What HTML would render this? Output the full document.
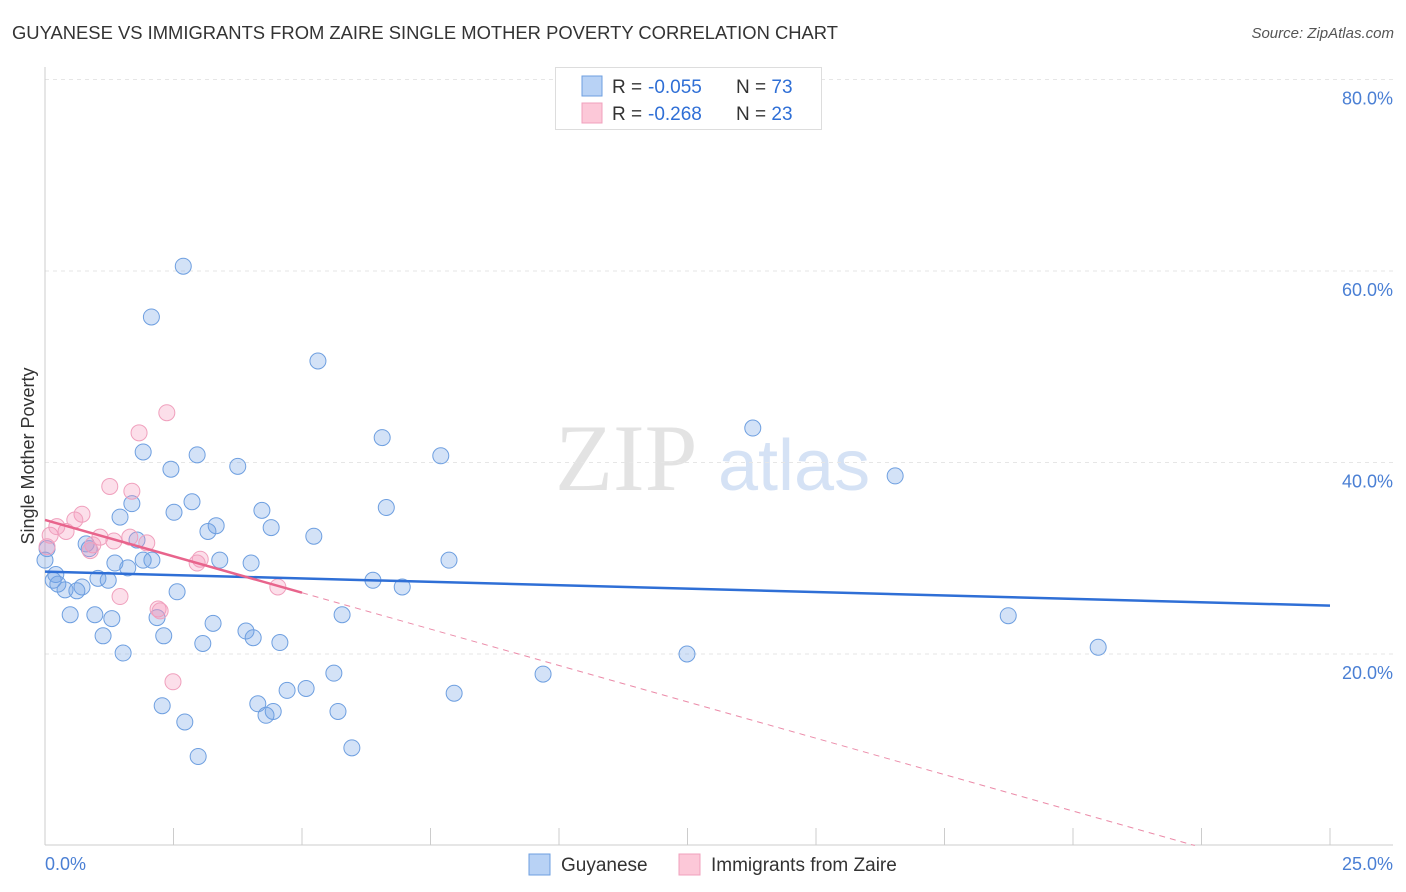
<!DOCTYPE html>
<html><head><meta charset="utf-8">
<style>
body{margin:0;background:#fff;font-family:"Liberation Sans",sans-serif;}
#wrap{position:relative;width:1406px;height:892px;overflow:hidden;}
.t{position:absolute;white-space:nowrap;}
</style></head>
<body>
<div id="wrap">
<div class="t" style="left:12px;top:22px;font-size:18.4px;color:#333;">GUYANESE VS IMMIGRANTS FROM ZAIRE SINGLE MOTHER POVERTY CORRELATION CHART</div>
<div class="t" style="right:12px;top:25px;font-size:15px;color:#555;font-style:italic;">Source: ZipAtlas.com</div>
<svg id="svg" width="1406" height="892" style="position:absolute;left:0;top:0"></svg>
</div>
<script>
const yTicks=[20,40,60,80];
const xTickVals=[0,2.5,5,7.5,10,12.5,15,17.5,20,22.5,25];
const blueX=[2.69,2.07,5.31,6.56,13.77,7.70,1.91,2.96,2.45,3.75,16.54,1.69,2.86,6.64,1.46,2.51,4.22,3.33,4.40,3.17,5.23,0.80,1.79,3.40,0.86,2.08,7.86,4.01,1.36,1.91,1.61,0.21,0.16,1.23,1.03,0.72,6.38,6.95,2.57,0.25,0.39,0.62,0.49,0.97,1.30,2.18,3.27,5.78,18.74,3.91,1.13,2.31,4.05,4.57,3.07,1.52,12.49,20.49,5.62,9.69,4.71,5.08,2.28,4.14,4.44,4.30,7.96,5.70,2.72,5.97,2.98,0.04,0.0];
const blueY=[60.5,55.2,50.6,42.6,43.6,40.7,41.1,40.8,39.3,39.6,38.6,35.7,35.9,35.3,34.3,34.8,35.0,33.4,33.2,32.8,32.3,31.5,31.9,29.8,31.0,29.8,29.8,29.5,29.5,29.8,29.0,28.3,27.7,27.7,27.9,27.0,27.7,27.0,26.5,27.3,26.7,26.6,24.1,24.1,23.7,23.8,23.2,24.1,24.0,22.4,21.9,21.9,21.7,21.2,21.1,20.1,20.0,20.7,18.0,17.9,16.2,16.4,14.6,14.8,14.0,13.6,15.9,14.0,12.9,10.2,9.3,31.0,29.8];
const pinkX=[2.37,1.83,1.26,1.69,0.72,0.58,0.41,0.10,0.23,1.07,0.93,1.34,1.65,1.98,0.88,3.02,2.96,1.46,2.20,2.24,4.53,2.49,0.04];
const pinkY=[45.2,43.1,37.5,37.0,34.6,34.0,32.8,32.4,33.3,32.2,31.4,31.8,32.2,31.6,30.8,29.9,29.5,26.0,24.7,24.5,27.0,17.1,31.2];
const blueTrend=[28.6,-0.142];
const pinkTrend=[34.0,-1.52];
const pinkSolidEnd=5;

const X0=45,X1=1330,Y0=845.5,PY=9.575;
const sx=v=>X0+v*(X1-X0)/25;
const sy=v=>Y0-v*PY;
const svg=document.getElementById('svg');
const NS='http://www.w3.org/2000/svg';
function mk(tag,attrs,parent){const e=document.createElementNS(NS,tag);for(const k in attrs)e.setAttribute(k,attrs[k]);(parent||svg).appendChild(e);return e;}

let wm=mk('text',{x:555,y:490,'font-size':95,'font-family':'Liberation Serif,serif',fill:'#e3e3e3'});
wm.textContent='ZIP';


let wm2=mk('text',{x:718,y:490,'font-size':72,'font-family':'Liberation Sans,sans-serif',fill:'#d5e2f5'});
wm2.textContent='atlas';



yTicks.forEach(v=>{
  const g=mk('line',{x1:45,x2:1393,y1:sy(v),y2:sy(v),stroke:'#e6e6e6','stroke-dasharray':'4,4'});
  
  
  const t=mk('text',{x:1393,y:sy(v)+25,'text-anchor':'end','font-size':18,fill:'#4a7fd4'});
  t.textContent=v.toFixed(1)+'%';
  
  
});
mk('line',{x1:45,x2:45,y1:67,y2:845,stroke:'#ccc'});
mk('line',{x1:45,x2:1393,y1:845,y2:845,stroke:'#ccc'});
xTickVals.forEach(v=>{
  const l=mk('line',{x1:sx(v),x2:sx(v),y1:828,y2:845,stroke:'#ccc'});
  
  
});
let xl=mk('text',{x:45,y:870,'font-size':18,fill:'#4a7fd4'});xl.textContent='0.0%';


let xr=mk('text',{x:1393,y:870,'text-anchor':'end','font-size':18,fill:'#4a7fd4'});xr.textContent='25.0%';


let yt=mk('text',{x:34,y:456,'text-anchor':'middle','font-size':18,fill:'#333',transform:'rotate(-90 34 456)'});yt.textContent='Single Mother Poverty';



blueX.forEach((v,i)=>{
  const c=mk('circle',{cx:sx(v),cy:sy(blueY[i]),r:8,fill:'rgba(110,160,230,0.3)',stroke:'#6e9fe0','stroke-width':1});
  
  
});
pinkX.forEach((v,i)=>{
  const c=mk('circle',{cx:sx(v),cy:sy(pinkY[i]),r:8,fill:'rgba(245,150,185,0.3)',stroke:'#f0a0bd','stroke-width':1});
  
  
});
let bt=mk('line',{x1:sx(0),y1:sy(blueTrend[0]),x2:sx(25),y2:sy(blueTrend[0]+blueTrend[1]*25),stroke:'#2f6fd6','stroke-width':2.5});


const pEnd=-pinkTrend[0]/pinkTrend[1];
let pd=mk('line',{x1:sx(pinkSolidEnd),y1:sy(pinkTrend[0]+pinkTrend[1]*pinkSolidEnd),x2:sx(pEnd),y2:sy(0),stroke:'#eb8aa8','stroke-width':1,'stroke-dasharray':'6,5'});


let pt=mk('line',{x1:sx(0),y1:sy(pinkTrend[0]),x2:sx(pinkSolidEnd),y2:sy(pinkTrend[0]+pinkTrend[1]*pinkSolidEnd),stroke:'#e8648c','stroke-width':2.5});



let lb=mk('rect',{x:555.5,y:67.5,width:266,height:62,fill:'#fff',stroke:'#ddd'});


[[0,'#b8d2f5','#6e9fe0','-0.055','73'],[1,'#fcc8d8','#f0a0bd','-0.268','23']].forEach(r=>{
  const y=86+r[0]*27;
  const s=mk('rect',{x:582,y:y-10,width:20,height:20,fill:r[1],stroke:r[2]});
  
  
  const t=mk('text',{x:612,y:y+7,'font-size':19,fill:'#333'});
  t.innerHTML='R = <tspan x="648" fill="#2f6fd6">'+r[3]+'</tspan><tspan x="736">N = </tspan><tspan fill="#2f6fd6">'+r[4]+'</tspan>';
  
  
});
[[529,'#b8d2f5','#6e9fe0','Guyanese'],[679,'#fcc8d8','#f0a0bd','Immigrants from Zaire']].forEach(r=>{
  const s=mk('rect',{x:r[0],y:854,width:21,height:21,fill:r[1],stroke:r[2]});
  
  
  const t=mk('text',{x:r[0]+32,y:871,'font-size':19,fill:'#333'});
  t.textContent=r[3];
  
  
});
</script>
</body></html>
